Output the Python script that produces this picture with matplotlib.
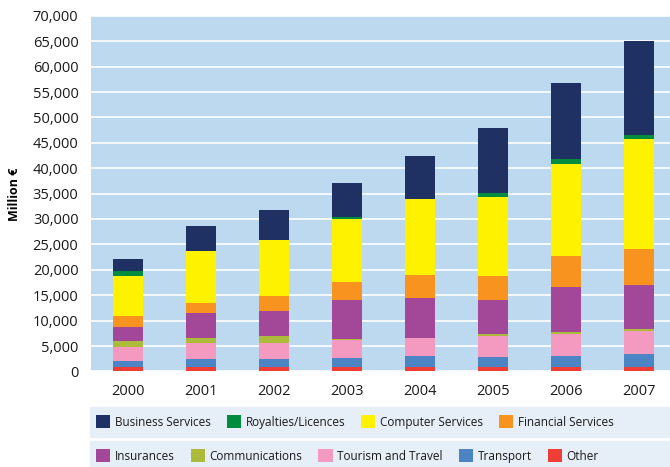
import numpy as np
import matplotlib
matplotlib.use('Agg')
from matplotlib import pyplot as plt
from matplotlib.patches import Rectangle

years = ['2000', '2001', '2002', '2003', '2004', '2005', '2006', '2007']

# values in million euro, bottom segment first
other = [850, 850, 850, 850, 850, 850, 850, 850]
transport = [1200, 1650, 1600, 1800, 2150, 2000, 2150, 2550]
tourism = [2750, 3100, 3150, 3550, 3550, 4150, 4450, 4550]
communications = [1200, 1000, 1400, 250, 0, 400, 250, 400]
insurances = [2750, 4800, 4900, 7600, 7900, 6700, 8850, 8650]
financial = [2150, 2150, 2950, 3550, 4500, 4700, 6100, 7100]
computer = [7900, 10200, 11000, 12400, 14950, 15550, 18100, 21650]
royalties = [1000, 0, 0, 400, 0, 800, 1000, 800]
business = [2350, 4900, 5900, 6700, 8450, 12800, 14950, 18500]

series = [
    ('Other', other, '#EE3E36'),
    ('Transport', transport, '#4C84C4'),
    ('Tourism and Travel', tourism, '#F49AC1'),
    ('Communications', communications, '#ADBB3A'),
    ('Insurances', insurances, '#A34798'),
    ('Financial Services', financial, '#F7931E'),
    ('Computer Services', computer, '#FFF200'),
    ('Royalties/Licences', royalties, '#008C3E'),
    ('Business Services', business, '#1F3162'),
]

plt.rcParams['font.family'] = ['Open Sans', 'DejaVu Sans']

fig = plt.figure(figsize=(6.7, 4.67), dpi=100)
ax = fig.add_axes([91 / 670, 95.6 / 467, 579 / 670, 355.6 / 467])
ax.set_facecolor('#BDD9F0')

x = np.arange(len(years))
bottom = np.zeros(len(years))
bars = {}
for name, vals, col in series:
    vals = np.array(vals, dtype=float)
    bars[name] = ax.bar(x, vals, 0.41, bottom=bottom, color=col, zorder=3, label=name)
    bottom += vals

ax.set_ylim(0, 70000)
ax.set_xlim(-0.5, 7.42)
ax.set_yticks(np.arange(0, 70001, 5000))
ax.set_yticklabels(['{:,}'.format(v) for v in range(0, 70001, 5000)])
ax.set_xticks(x)
ax.set_xticklabels(years)
ax.yaxis.grid(True, color='white', linewidth=1.2, zorder=1)
ax.set_axisbelow(True)
for s in ax.spines.values():
    s.set_visible(False)
ax.tick_params(axis='both', length=0, labelsize=10.5, colors='#1a1a1a')
ax.tick_params(axis='y', pad=9)
ax.tick_params(axis='x', pad=9)

fig.text(15 / 670, 1 - 194 / 467, 'Million €', rotation=90, fontsize=9,
         fontweight='bold', ha='center', va='center')

# legend background strips
fig.patches.append(Rectangle((90 / 670, 30.3 / 467), 580 / 670, 29.4 / 467,
                             transform=fig.transFigure, color='#E6EEF8', zorder=0))
fig.patches.append(Rectangle((90 / 670, 0), 580 / 670, 26.3 / 467,
                             transform=fig.transFigure, color='#E6EEF8', zorder=0))

row1 = ['Business Services', 'Royalties/Licences', 'Computer Services', 'Financial Services']
row2 = ['Insurances', 'Communications', 'Tourism and Travel', 'Transport', 'Other']
for names, yc in [(row1, 1 - 422 / 467), (row2, 1 - 456 / 467)]:
    fig.legend([bars[n] for n in names], names, ncol=len(names), frameon=False,
               loc='center left', bbox_to_anchor=(96 / 670, yc), borderpad=0,
               borderaxespad=0, handlelength=1.2, handleheight=1.2,
               handletextpad=0.4, columnspacing=1.35, fontsize=8.5,
               labelcolor='#1a1a1a')

fig.savefig('out.png', dpi=100)
